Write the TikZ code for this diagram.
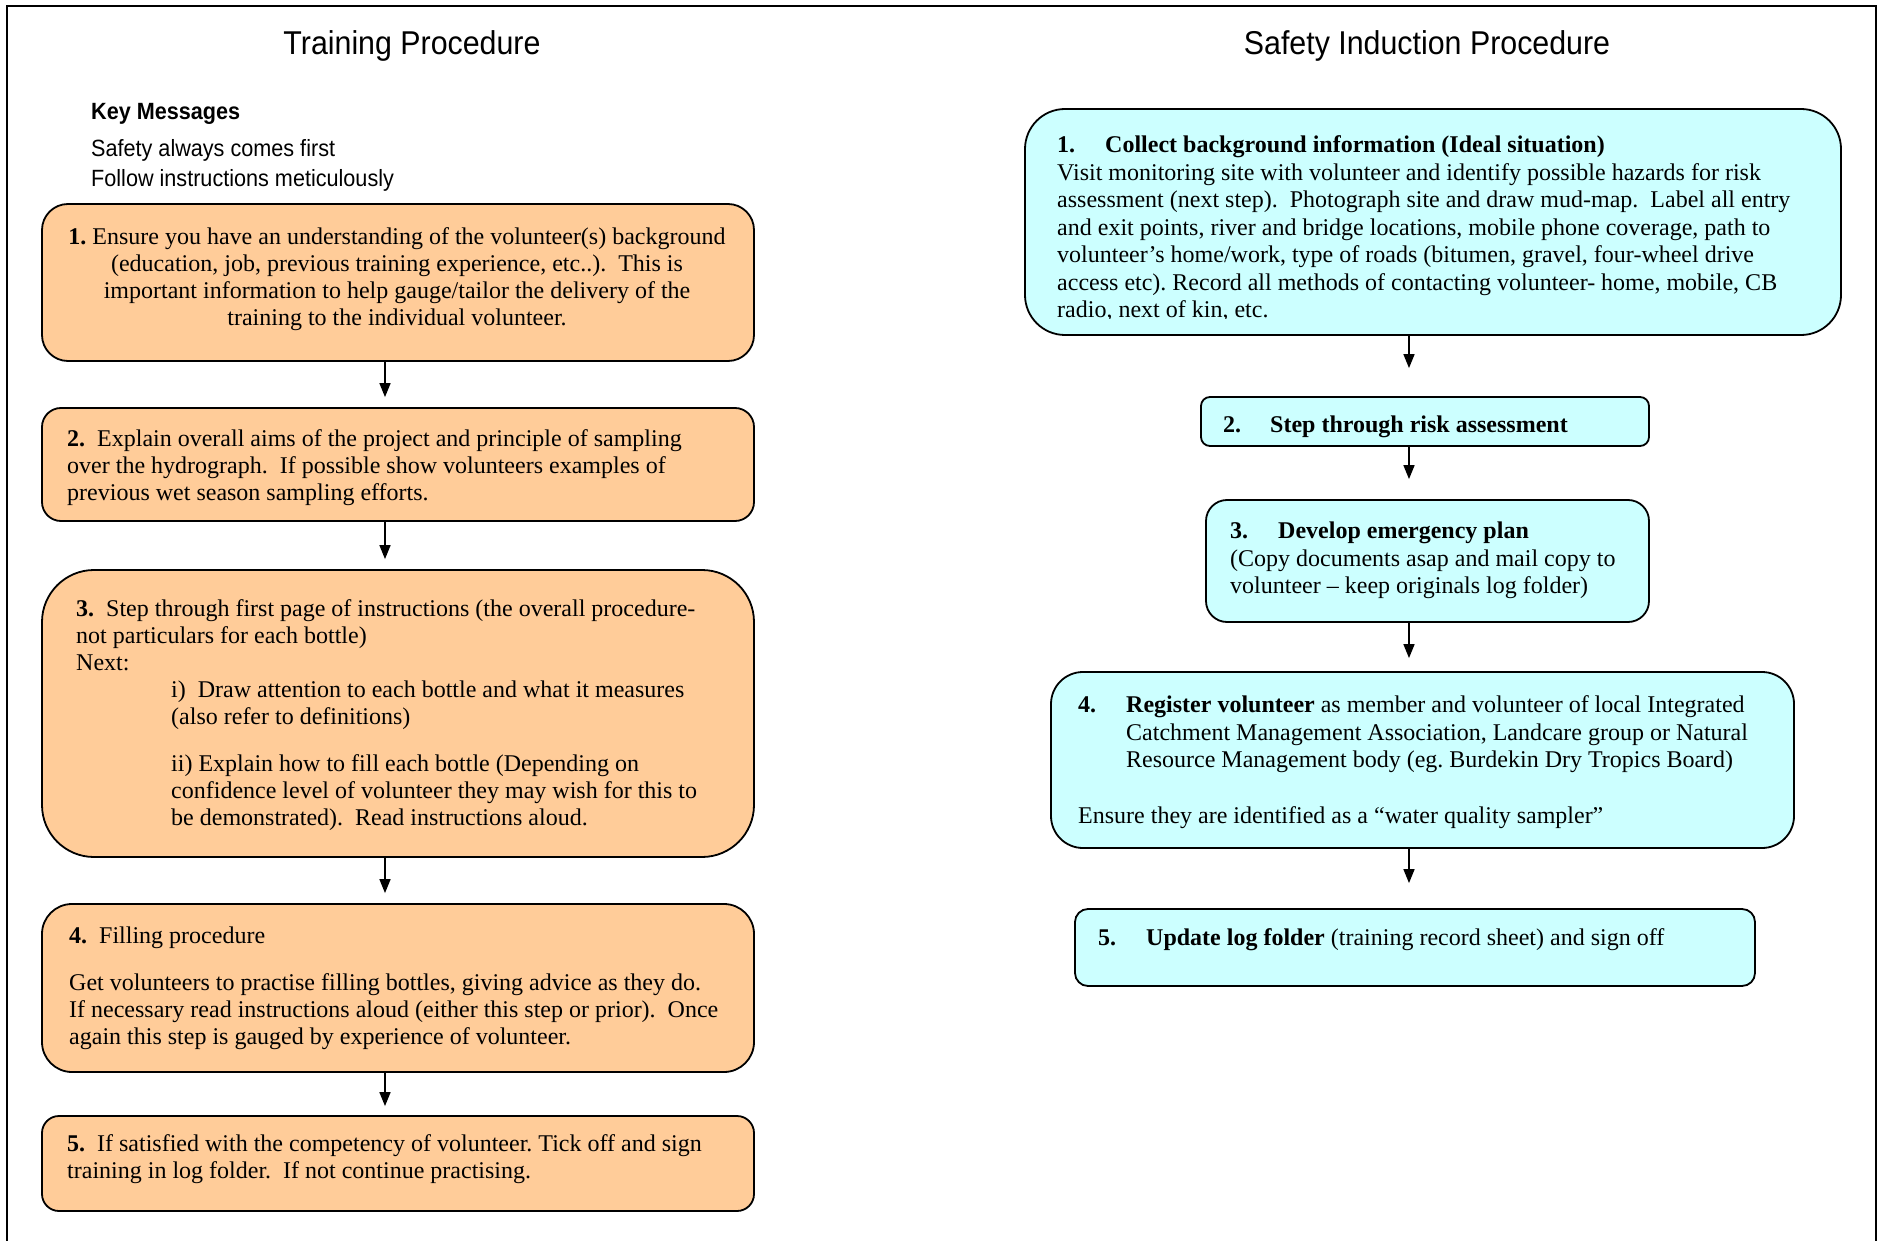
\documentclass[tikz,border=0pt]{standalone}
\usepackage{fontspec}
\setmainfont{Liberation Serif}
\newfontfamily\narrow[FakeStretch=0.92]{Liberation Sans}
\usetikzlibrary{arrows.meta}
\definecolor{tan}{HTML}{FFCC99}
\definecolor{aqua}{HTML}{CCFFFF}
\frenchspacing
\begin{document}
\begin{tikzpicture}[x=1pt,y=-1pt,
  box/.style={draw=black, line width=1.8pt, inner sep=0pt, rounded corners=#1},
  obox/.style={box=#1, fill=tan, minimum width=712pt},
  cbox/.style={box=#1, fill=aqua},
  txt/.style={inner sep=0pt, font=\fontsize{24}{27}\selectfont},
  rtxt/.style={inner sep=0pt, font=\fontsize{24}{27.5}\selectfont},
  ttl/.style={inner sep=0pt, anchor=base, font=\narrow\fontsize{33}{36}\selectfont},
  km/.style={inner sep=0pt, anchor=base west, align=left, font=\narrow\fontsize{23.5}{30}\selectfont},
  arr/.style={line width=1.6pt, -{Triangle[length=14pt,width=11pt]}}
]
\useasboundingbox (0,0) rectangle (1885,1241);
\draw[line width=1.5pt] (7,1260) -- (7,6) -- (1876,6) -- (1876,1260);

% titles (multi-line nodes are anchored at the baseline of their last line)
\node[ttl] (T1) at (412,54.5) {Training Procedure};
\node[ttl] (T2) at (1427,54.5) {Safety Induction Procedure};
\node[km] (K1) at (91,120) {\bfseries Key Messages};
\node[km] (K2) at (91,187) {Safety always comes first\\Follow instructions meticulously};

% left boxes
\node[obox=26pt, minimum height=157pt] (L1) at (398,282.5) {};
\node[obox=19pt, minimum height=113pt] (L2) at (398,464.5) {};
\node[obox=52pt, minimum height=287pt] (L3) at (398,713.5) {};
\node[obox=30pt, minimum height=168pt] (L4) at (398,988) {};
\node[obox=17pt, minimum height=95pt]  (L5) at (398,1163.5) {};

\node[txt, align=center, anchor=base] (L1t) at (397,325.5)
 {\textbf{1.} Ensure you have an understanding of the volunteer(s) background\\
  (education, job, previous training experience, etc..).~ This is\\
  important information to help gauge/tailor the delivery of the\\
  training to the individual volunteer.};
\node[txt, align=left, anchor=base west] (L2t) at (67,500.5)
 {\textbf{2.}~ Explain overall aims of the project and principle of sampling\\
  over the hydrograph.~ If possible show volunteers examples of\\
  previous wet season sampling efforts.};
\node[txt, align=left, anchor=base west] (L3t) at (76,825.5)
 {\textbf{3.}~ Step through first page of instructions (the overall procedure-\\
  not particulars for each bottle)\\
  Next:\\
  \hspace*{95pt}i)~ Draw attention to each bottle and what it measures\\
  \hspace*{95pt}(also refer to definitions)\\[20pt]
  \hspace*{95pt}ii) Explain how to fill each bottle (Depending on\\
  \hspace*{95pt}confidence level of volunteer they may wish for this to\\
  \hspace*{95pt}be demonstrated).~ Read instructions aloud.};
\node[txt, align=left, anchor=base west] (L4t) at (69,1044.5)
 {\textbf{4.}~ Filling procedure\\[20pt]
  Get volunteers to practise filling bottles, giving advice as they do.\\
  If necessary read instructions aloud (either this step or prior).~ Once\\
  again this step is gauged by experience of volunteer.};
\node[txt, align=left, anchor=base west] (L5t) at (67,1178.5)
 {\textbf{5.}~ If satisfied with the competency of volunteer. Tick off and sign\\
  training in log folder.~ If not continue practising.};

% right boxes
\node[cbox=40pt, minimum width=816pt, minimum height=226pt] (R1) at (1433,222) {};
\node[cbox=9pt,  minimum width=448pt, minimum height=49pt]  (R2) at (1425,421.5) {};
\node[cbox=21pt, minimum width=443pt, minimum height=122pt] (R3) at (1427.5,561) {};
\node[cbox=32pt, minimum width=743pt, minimum height=176pt] (R4) at (1422.5,760) {};
\node[cbox=13pt, minimum width=680pt, minimum height=77pt]  (R5) at (1415,947.5) {};

\begin{scope}
\clip (1030,120) rectangle (1830,319);
\node[rtxt, align=left, anchor=base west] (R1t) at (1057,318)
 {\makebox[48pt][l]{\textbf{1.}}\textbf{Collect background information (Ideal situation)}\\
  Visit monitoring site with volunteer and identify possible hazards for risk\\
  assessment (next step).~ Photograph site and draw mud-map.~ Label all entry\\
  and exit points, river and bridge locations, mobile phone coverage, path to\\
  volunteer’s home/work, type of roads (bitumen, gravel, four-wheel drive\\
  access etc). Record all methods of contacting volunteer- home, mobile, CB\\
  radio, next of kin, etc.};
\end{scope}
\node[rtxt, align=left, anchor=base west] (R2t) at (1223,432.5)
 {\makebox[47pt][l]{\textbf{2.}}\textbf{Step through risk assessment}};
\node[rtxt, align=left, anchor=base west] (R3t) at (1230,593.5)
 {\makebox[48pt][l]{\textbf{3.}}\textbf{Develop emergency plan}\\
  (Copy documents asap and mail copy to\\
  volunteer – keep originals log folder)};
\node[rtxt, align=left, anchor=base west] (R4t) at (1078,823)
 {\makebox[48pt][l]{\textbf{4.}}\textbf{Register volunteer} as member and volunteer of local Integrated\\
  \hspace*{48pt}Catchment Management Association, Landcare group or Natural\\
  \hspace*{48pt}Resource Management body (eg. Burdekin Dry Tropics Board)\\[28pt]
  Ensure they are identified as a “water quality sampler”};
\node[rtxt, align=left, anchor=base west] (R5t) at (1098,945.5)
 {\makebox[48pt][l]{\textbf{5.}}\textbf{Update log folder} (training record sheet) and sign off};

% arrows
\coordinate (axL) at (385,0);
\coordinate (axR) at (1409,0);
\draw[arr, shorten >=10pt] (L1.south -| axL) -- (L2.north -| axL);
\draw[arr, shorten >=10pt] (L2.south -| axL) -- (L3.north -| axL);
\draw[arr, shorten >=10pt] (L3.south -| axL) -- (L4.north -| axL);
\draw[arr, shorten >=9pt]  (L4.south -| axL) -- (L5.north -| axL);
\draw[arr, shorten >=28pt] (R1.south -| axR) -- (R2.north -| axR);
\draw[arr, shorten >=20pt] (R2.south -| axR) -- (R3.north -| axR);
\draw[arr, shorten >=13pt] (R3.south -| axR) -- (R4.north -| axR);
\draw[arr, shorten >=25pt] (R4.south -| axR) -- (R5.north -| axR);
\end{tikzpicture}
\end{document}
